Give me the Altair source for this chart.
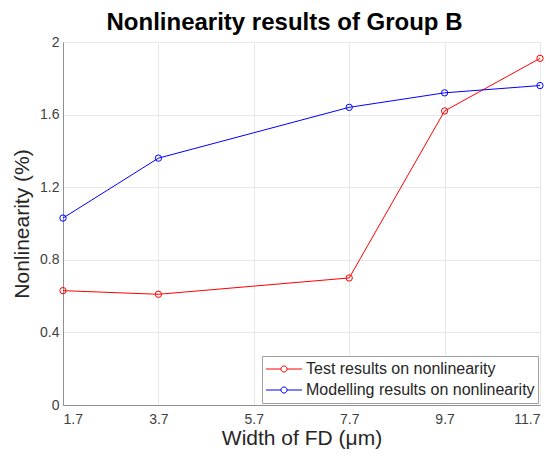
import altair as alt
import pandas as pd

widths = [1.7, 3.7, 7.7, 9.7, 11.7]
test_vals = [0.63, 0.61, 0.70, 1.62, 1.91]
model_vals = [1.03, 1.36, 1.64, 1.72, 1.76]
series_names = ["Test results on nonlinearity", "Modelling results on nonlinearity"]
x_ticks = [1.7, 3.7, 5.7, 7.7, 9.7, 11.7]
y_ticks = [0, 0.4, 0.8, 1.2, 1.6, 2]

rows = []
for w, v in zip(widths, test_vals):
    rows.append({"w": w, "v": v, "s": series_names[0]})
for w, v in zip(widths, model_vals):
    rows.append({"w": w, "v": v, "s": series_names[1]})
df = pd.DataFrame(rows)

sym = "M-1,0L-0.17,0M0.17,0L1,0M-0.17,0A0.17,0.17 0 1,0 0.17,0A0.17,0.17 0 1,0 -0.17,0"

chart = alt.Chart(df).mark_line(
    strokeWidth=1,
    point=alt.OverlayMarkDef(filled=False, size=40, strokeWidth=1),
).encode(
    x=alt.X("w:Q", scale=alt.Scale(domain=[1.7, 11.7], nice=False, zero=False),
            axis=alt.Axis(values=x_ticks, format=".1f", title="Width of FD (μm)",
                          labelPadding=7, titlePadding=1)),
    y=alt.Y("v:Q", scale=alt.Scale(domain=[0, 2], nice=False),
            axis=alt.Axis(values=y_ticks, format="~g", title="Nonlinearity (%)",
                          labelPadding=4, titlePadding=7)),
    color=alt.Color("s:N", scale=alt.Scale(domain=series_names, range=["#ff0000", "#0000ff"]),
                    sort=series_names,
                    legend=alt.Legend(title=None, orient="bottom-right", offset=2,
                                      symbolType=sym, symbolSize=1300, symbolStrokeWidth=1,
                                      symbolFillColor="transparent", clipHeight=20,
                                      labelFontSize=16, labelFont="Liberation Sans",
                                      labelColor="#262626", labelLimit=0,
                                      strokeColor="#a0a0a0", fillColor="white",
                                      padding=3, rowPadding=1, labelOffset=3)),
).properties(
    width=477, height=363,
    title=alt.Title("Nonlinearity results of Group B", fontSize=24, font="Liberation Sans",
                    fontWeight="bold", color="#000000", offset=0, dx=-17),
    padding={"left": 55, "top": 34, "right": 5, "bottom": 48},
    autosize=alt.AutoSizeParams(type="none"),
).configure_view(
    stroke="#909090", strokeWidth=1
).configure_axis(
    grid=True, gridColor="#e8e8e8", domainColor="#909090", ticks=False,
    labelFont="Liberation Sans", labelFontSize=14, labelColor="#404040",
    titleFont="Liberation Sans", titleFontSize=21, titleColor="#262626",
    titleFontWeight="normal",
)

chart.save("out.html", embed_options={"renderer": "svg", "actions": False})
